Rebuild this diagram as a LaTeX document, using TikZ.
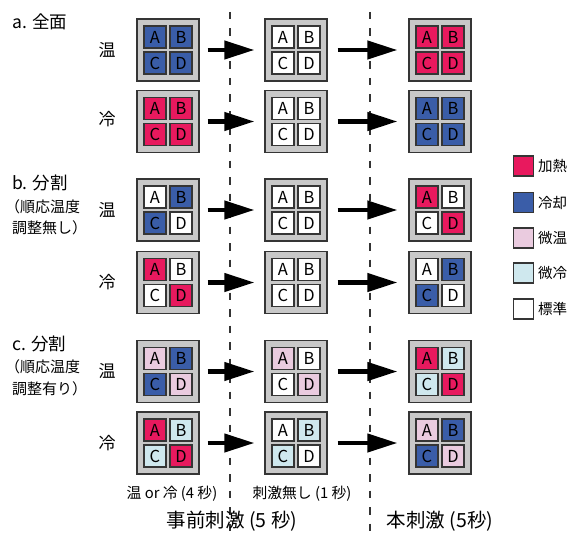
\documentclass[tikz,border=0pt]{standalone}
\usepackage{fontspec}
\setmainfont{Noto Sans CJK JP}
\usetikzlibrary{arrows.meta}
\definecolor{hot}{HTML}{E8195E}
\definecolor{cold}{HTML}{3A5DA8}
\definecolor{warm}{HTML}{EACBDF}
\definecolor{cool}{HTML}{CFE8EE}
\definecolor{frame}{HTML}{C8C8C8}
\definecolor{edge}{HTML}{353535}
\tikzset{
  outerbox/.style={draw=edge, line width=1.3pt, fill=frame, minimum size=62pt, inner sep=0pt},
  cellbox/.style={draw=edge, line width=1.3pt, minimum size=22pt, inner sep=0pt, font=\fontsize{16.5}{16.5}\selectfont},
  bigarrow/.style={line width=4.2pt, -{Triangle[length=30pt,width=18pt]}},
  divider/.style={line width=1.3pt, dash pattern=on 7.5pt off 9pt, draw=black!80},
  side/.style={font=\fontsize{17}{17}\selectfont, inner sep=0pt},
  head/.style={font=\fontsize{17.5}{17.5}\selectfont, inner sep=0pt, anchor=west},
  sub/.style={font=\fontsize{15}{15}\selectfont, inner sep=0pt, anchor=west},
  legsq/.style={draw=edge, line width=1.3pt, minimum size=20pt, inner sep=0pt},
  leglab/.style={font=\fontsize{14.5}{14.5}\selectfont, inner sep=0pt, anchor=west},
  foot/.style={font=\fontsize{14.8}{14.8}\selectfont, inner sep=0pt},
  bigfoot/.style={font=\fontsize{19.5}{19.5}\selectfont, inner sep=0pt}
}
\newcommand{\quadbox}[7]{%
  \node[outerbox] (#1) at (#2,#3) {};
  \node[cellbox, fill=#4] (#1a) at ([xshift=-13pt,yshift=13pt]#1.center) {A};
  \node[cellbox, fill=#5] (#1b) at ([xshift=13pt,yshift=13pt]#1.center) {B};
  \node[cellbox, fill=#6] (#1c) at ([xshift=-13pt,yshift=-13pt]#1.center) {C};
  \node[cellbox, fill=#7] (#1d) at ([xshift=13pt,yshift=-13pt]#1.center) {D};
}
\begin{document}
\begin{tikzpicture}[x=1pt,y=-1pt]
\useasboundingbox (0,0) rectangle (569,532);
% dividers
\coordinate (d1t) at (230,12); \coordinate (d1b) at (230,532);
\coordinate (d2t) at (370,12); \coordinate (d2b) at (370,532);
\draw[divider] (d1t) -- (d1b);
\draw[divider] (d2t) -- (d2b);
% row a
\quadbox{a11}{168}{50}{cold}{cold}{cold}{cold}
\quadbox{a12}{296}{50}{white}{white}{white}{white}
\quadbox{a13}{440}{50}{hot}{hot}{hot}{hot}
\quadbox{a21}{168}{121.5}{hot}{hot}{hot}{hot}
\quadbox{a22}{296}{121.5}{white}{white}{white}{white}
\quadbox{a23}{440}{121.5}{cold}{cold}{cold}{cold}
% row b
\quadbox{b11}{168}{210}{white}{cold}{cold}{white}
\quadbox{b12}{296}{210}{white}{white}{white}{white}
\quadbox{b13}{440}{210}{hot}{white}{white}{hot}
\quadbox{b21}{168}{282.5}{hot}{white}{white}{hot}
\quadbox{b22}{296}{282.5}{white}{white}{white}{white}
\quadbox{b23}{440}{282.5}{white}{cold}{cold}{white}
% row c
\quadbox{c11}{168}{371.5}{warm}{cold}{cold}{warm}
\quadbox{c12}{296}{371.5}{warm}{white}{white}{warm}
\quadbox{c13}{440}{371.5}{hot}{cool}{cool}{hot}
\quadbox{c21}{168}{443}{hot}{cool}{cool}{hot}
\quadbox{c22}{296}{443}{white}{cool}{cool}{white}
\quadbox{c23}{440}{443}{warm}{cold}{cold}{warm}
% arrows
\foreach \r in {a1,a2,b1,b2,c1,c2}{
  \draw[bigarrow] ([xshift=8pt]\r1.east) -- ([xshift=-10pt]\r2.west);
  \draw[bigarrow] ([xshift=10pt]\r2.east) -- ([xshift=-11pt]\r3.west);
}
% left labels
\node[head] (la) at (12,22) {a. 全面};
\node[side] (la1) at (107,50) {温};
\node[side] (la2) at (107,119) {冷};
\node[head] (lb) at (12,183) {b. 分割};
\node[sub] (lb2) at (5,207) {（順応温度};
\node[sub] (lb3) at (12,228) {調整無し）};
\node[side] (lb4) at (107,210) {温};
\node[side] (lb5) at (107,282) {冷};
\node[head] (lc) at (12,344) {c. 分割};
\node[sub] (lc2) at (5,367) {（順応温度};
\node[sub] (lc3) at (12,389) {調整有り）};
\node[side] (lc4) at (107,371) {温};
\node[side] (lc5) at (107,443) {冷};
% legend
\node[legsq, fill=hot] (g1) at (523.5,166) {};
\node[legsq, fill=cold] (g2) at (523.5,202.5) {};
\node[legsq, fill=warm] (g3) at (523.5,238) {};
\node[legsq, fill=cool] (g4) at (523.5,273) {};
\node[legsq, fill=white] (g5) at (523.5,309) {};
\node[leglab] (t1) at (538,166) {加熱};
\node[leglab] (t2) at (538,202.5) {冷却};
\node[leglab] (t3) at (538,238) {微温};
\node[leglab] (t4) at (538,273) {微冷};
\node[leglab] (t5) at (538,309) {標準};
% footer
\node[foot] (f1) at (172,494) {温 or 冷 (4 秒)};
\node[foot] (f2) at (302,494) {刺激無し (1 秒)};
\node[bigfoot] (f3) at (232,521) {事前刺激 (5 秒)};
\node[bigfoot] (f4) at (440,521) {本刺激 (5秒)};
\end{tikzpicture}
\end{document}
